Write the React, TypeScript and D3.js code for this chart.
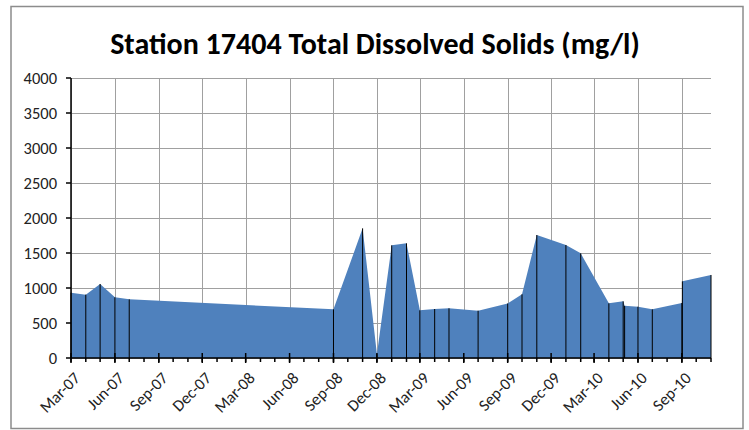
import React from "react";
import * as d3 from "d3";

const title = "Station 17404 Total Dissolved Solids (mg/l)";

const sampleDates: string[] = [
  "2007-03-01", "2007-04-01", "2007-05-01", "2007-06-01", "2007-07-01",
  "2008-09-01", "2008-11-01", "2008-12-01", "2009-01-01", "2009-02-01",
  "2009-03-01", "2009-04-01", "2009-05-01", "2009-07-01", "2009-09-01",
  "2009-10-01", "2009-11-01", "2010-01-01", "2010-02-01", "2010-04-01",
  "2010-05-01", "2010-05-04", "2010-06-01", "2010-07-01", "2010-09-01",
  "2010-09-02", "2010-11-01",
];

const tdsValues: number[] = [
  933, 905, 1057, 867, 838,
  695, 1852, 55, 1610, 1638,
  681, 700, 710, 676, 779,
  910, 1757, 1614, 1495, 781,
  810, 745, 733, 695, 786,
  1095, 1186,
];

const yTicks: number[] = [0, 500, 1000, 1500, 2000, 2500, 3000, 3500, 4000];
const xDomain: string[] = ["2007-03-01", "2010-11-01"];

const W = 749;
const H = 430;
const plot = { left: 71, right: 711, top: 78, bottom: 358 };

const parse = d3.timeParse("%Y-%m-%d");

export default function App() {
  const data = sampleDates.map((d, i) => ({ date: parse(d) as Date, value: tdsValues[i] }));

  const x = d3
    .scaleTime()
    .domain([parse(xDomain[0]) as Date, parse(xDomain[1]) as Date])
    .range([plot.left, plot.right]);
  const y = d3.scaleLinear().domain([0, 4000]).range([plot.bottom, plot.top]);

  const area = d3
    .area<{ date: Date; value: number }>()
    .x((d) => x(d.date))
    .y0(y(0))
    .y1((d) => y(d.value));

  const end = d3.timeDay.offset(x.domain()[1], 1);
  const majorTicks = d3.timeMonth.range(x.domain()[0], end, 3);
  const minorTicks = d3.timeMonth.range(x.domain()[0], end);
  const fmt = d3.timeFormat("%b-%y");

  const font = "Calibri, Carlito, 'Open Sans', sans-serif";

  return (
    <svg
      width={W}
      height={H}
      style={{ position: "absolute", left: 0, top: 0, background: "#fff" }}
    >
      <rect x={0} y={0} width={W} height={H} fill="#fff" />
      <rect x={11} y={6.5} width={732} height={422} fill="#fff" stroke="#8c8c8c" strokeWidth={1.5} />

      <text
        x={375}
        y={54}
        textAnchor="middle"
        fontFamily={font}
        fontWeight="bold"
        fontSize={30}
        fill="#000"
      >
        {title}
      </text>

      {/* horizontal gridlines */}
      {yTicks.map((t) => (
        <line
          key={"h" + t}
          x1={plot.left}
          x2={plot.right}
          y1={Math.round(y(t)) + 0.5}
          y2={Math.round(y(t)) + 0.5}
          stroke="#a0a0a0"
          strokeWidth={1}
        />
      ))}
      {/* vertical gridlines */}
      {majorTicks.map((t) => (
        <line
          key={"v" + t.getTime()}
          x1={Math.round(x(t)) + 0.5}
          x2={Math.round(x(t)) + 0.5}
          y1={plot.top}
          y2={plot.bottom}
          stroke="#a0a0a0"
          strokeWidth={1}
        />
      ))}

      <path d={area(data) || ""} fill="#4f81bd" />

      {/* drop lines */}
      {data.map((d, i) => (
        <line
          key={"d" + i}
          x1={x(d.date)}
          x2={x(d.date)}
          y1={y(d.value)}
          y2={y(0)}
          stroke="#000"
          strokeWidth={1}
        />
      ))}

      {/* y axis */}
      <line x1={plot.left} x2={plot.left} y1={plot.top} y2={plot.bottom} stroke="#000" strokeWidth={1.5} />
      {yTicks.map((t) => (
        <g key={"yt" + t}>
          <line x1={plot.left - 5} x2={plot.left} y1={y(t)} y2={y(t)} stroke="#000" strokeWidth={1.5} />
          <text
            x={57}
            y={y(t)}
            dy="0.35em"
            textAnchor="end"
            fontFamily={font}
            fontSize={16.5}
            fill="#222"
          >
            {t}
          </text>
        </g>
      ))}

      {/* x axis */}
      <line x1={plot.left} x2={plot.right} y1={plot.bottom} y2={plot.bottom} stroke="#000" strokeWidth={1.5} />
      {minorTicks.map((t) => (
        <line
          key={"mt" + t.getTime()}
          x1={x(t)}
          x2={x(t)}
          y1={plot.bottom}
          y2={plot.bottom + 4}
          stroke="#000"
          strokeWidth={1.5}
        />
      ))}
      {majorTicks.map((t) => (
        <g key={"xt" + t.getTime()}>
          <line x1={x(t)} x2={x(t)} y1={plot.bottom - 5} y2={plot.bottom + 5} stroke="#000" strokeWidth={1.5} />
          <text
            transform={`translate(${x(t) + 2},${plot.bottom + 13}) rotate(-45)`}
            textAnchor="end"
            dy="0.7em"
            fontFamily={font}
            fontSize={16.5}
            fill="#222"
          >
            {fmt(t)}
          </text>
        </g>
      ))}
    </svg>
  );
}
